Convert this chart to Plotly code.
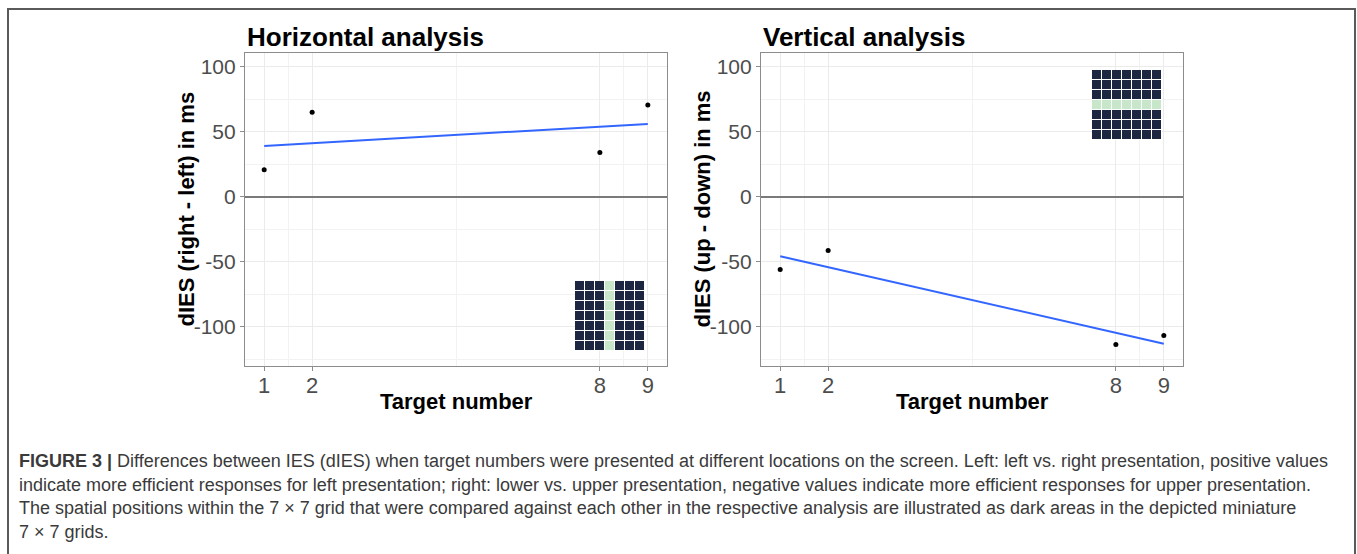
import numpy as np
import plotly.graph_objects as go

W, H = 1357, 554

# Target numbers and dIES values (ms)
targets = [1, 2, 8, 9]
dies_horizontal = [20.8, 65.0, 34.0, 70.5]     # right - left
dies_vertical = [-55.8, -41.2, -113.5, -106.6]  # up - down

x_ticks = [1, 2, 8, 9]
x_minor = [1.5, 5, 8.5]
y_ticks = [-100, -50, 0, 50, 100]
y_tick_text = ["-100", "-50", "0", "50", "100"]
y_minor = [-125, -75, -25, 25, 75]

panel_titles = ["Horizontal analysis", "Vertical analysis"]
y_titles = ["dIES (right - left) in ms", "dIES (up - down) in ms"]
x_title = "Target number"

caption_lines = [
    "<b>FIGURE 3 |</b> Differences between IES (dIES) when target numbers were presented at different locations on the screen. Left: left vs. right presentation, positive values",
    "indicate more efficient responses for left presentation; right: lower vs. upper presentation, negative values indicate more efficient responses for upper presentation.",
    "The spatial positions within the 7 \u00d7 7 grid that were compared against each other in the respective analysis are illustrated as dark areas in the depicted miniature",
    "7 \u00d7 7 grids.",
]

# Miniature 7x7 grids: 1 = dark (compared area), 0 = highlighted middle line
grid_horizontal = [[1, 1, 1, 0, 1, 1, 1] for _ in range(7)]
grid_vertical = [[0] * 7 if r == 3 else [1] * 7 for r in range(7)]

FONT = "Liberation Sans, Arial, sans-serif"


def px_x(p):
    return p / W


def px_y(p):
    return 1 - p / H


fig = go.Figure()

panels = [
    dict(x0=245, x1=667, data=dies_horizontal, inset=grid_horizontal,
         inset_box=(575, 645, 281, 351), white_box=(557, 667, 263, 359)),
    dict(x0=761, x1=1183, data=dies_vertical, inset=grid_vertical,
         inset_box=(1092, 1162, 70, 140), white_box=(1073, 1183, 53, 150)),
]
top_px, bottom_px = 53, 366

annotations = []
shapes = []

for i, p in enumerate(panels):
    xa = "x" if i == 0 else "x2"
    ya = "y" if i == 0 else "y2"
    # linear fit across the target range
    slope, icpt = np.polyfit(targets, p["data"], 1)
    fit_x = [min(targets), max(targets)]
    fit_y = [icpt + slope * v for v in fit_x]

    fig.add_trace(go.Scatter(x=fit_x, y=fit_y, mode="lines",
                             line=dict(color="#3366FF", width=2),
                             xaxis=xa, yaxis=ya, showlegend=False, hoverinfo="skip"))
    fig.add_trace(go.Scatter(x=targets, y=p["data"], mode="markers",
                             marker=dict(color="black", size=5),
                             xaxis=xa, yaxis=ya, showlegend=False))

    axis_common = dict(
        showline=True, mirror=True, linecolor="#8c8c8c", linewidth=1.2,
        ticks="outside", ticklen=4, tickcolor="#8c8c8c", tickwidth=1,
        tickfont=dict(family=FONT, size=21, color="#4d4d4d"),
        showgrid=True, gridcolor="#ebebeb", gridwidth=1,
        zeroline=False, fixedrange=True,
    )
    xkey = "xaxis" if i == 0 else "xaxis2"
    ykey = "yaxis" if i == 0 else "yaxis2"
    fig.update_layout({
        xkey: dict(axis_common, domain=[px_x(p["x0"]), px_x(p["x1"])], range=[0.6, 9.4],
                   tickvals=x_ticks, anchor=ya, ticklabelstandoff=-5,
                   tickfont=dict(family=FONT, size=22, color="#4d4d4d"),
                   minor=dict(tickvals=x_minor, showgrid=True, gridcolor="#f2f2f2", gridwidth=0.8)),
        ykey: dict(axis_common, domain=[px_y(bottom_px), px_y(top_px)], range=[-130, 110.5],
                   tickvals=y_ticks, ticktext=y_tick_text, anchor=xa,
                   zeroline=True, zerolinecolor="#7a7a7a", zerolinewidth=1.5,
                   minor=dict(tickvals=y_minor, showgrid=True, gridcolor="#f2f2f2", gridwidth=0.8)),
    })

    # white backing box of the miniature (hides grid lines)
    wx0, wx1, wy0, wy1 = p["white_box"]
    shapes.append(dict(type="rect", xref="paper", yref="paper",
                       x0=px_x(wx0), x1=px_x(wx1), y0=px_y(wy1), y1=px_y(wy0),
                       fillcolor="white", line=dict(width=0), layer="between"))

    # miniature grid as a heatmap on its own axes
    ix0, ix1, iy0, iy1 = p["inset_box"]
    n = 3 + i * 2
    xk, yk = f"xaxis{n}", f"yaxis{n}"
    xr, yr = f"x{n}", f"y{n}"
    shapes.append(dict(type="rect", xref="paper", yref="paper",
                       x0=px_x(ix0), x1=px_x(ix1), y0=px_y(iy1), y1=px_y(iy0),
                       fillcolor="#7f879c", line=dict(width=0), layer="between"))
    fig.add_trace(go.Heatmap(z=p["inset"], xaxis=xr, yaxis=yr, xgap=1, ygap=1,
                             colorscale=[[0, "#c8e6c9"], [1, "#1d2640"]], zmin=0, zmax=1,
                             showscale=False, hoverinfo="skip"))
    fig.update_layout({
        xk: dict(domain=[px_x(ix0), px_x(ix1)], visible=False, range=[-0.5, 6.5],
                 anchor=yr, fixedrange=True),
        yk: dict(domain=[px_y(iy1), px_y(iy0)], visible=False, range=[-0.5, 6.5],
                 anchor=xr, fixedrange=True),
    })

    # panel title
    annotations.append(dict(text=f"<b>{panel_titles[i]}</b>", xref="paper", yref="paper",
                            x=px_x(p["x0"]), y=px_y(37), xanchor="left", yanchor="middle",
                            showarrow=False, font=dict(family=FONT, size=26, color="black")))
    # axis titles
    annotations.append(dict(text=f"<b>{x_title}</b>", xref="paper", yref="paper",
                            x=px_x((p["x0"] + p["x1"]) / 2), y=px_y(401),
                            xanchor="center", yanchor="middle", showarrow=False,
                            font=dict(family=FONT, size=22, color="black")))
    annotations.append(dict(text=f"<b>{y_titles[i]}</b>", xref="paper", yref="paper",
                            x=px_x(p["x0"] - 59), y=px_y((top_px + bottom_px) / 2),
                            xanchor="center", yanchor="middle", textangle=-90, showarrow=False,
                            font=dict(family=FONT, size=22, color="black")))

# caption
for k, line in enumerate(caption_lines):
    annotations.append(dict(text=line, xref="paper", yref="paper",
                            x=px_x(17), y=px_y(461 + k * 23.5), xanchor="left", yanchor="middle",
                            showarrow=False, font=dict(family=FONT, size=18, color="#3a3a3a")))

# outer frame
shapes.append(dict(type="rect", xref="paper", yref="paper",
                   x0=px_x(8), x1=px_x(1355), y0=-0.1, y1=px_y(9),
                   line=dict(color="#5a5a5a", width=2), fillcolor="rgba(0,0,0,0)", layer="above"))

fig.update_layout(
    width=W, height=H,
    margin=dict(l=0, r=0, t=0, b=0),
    paper_bgcolor="white", plot_bgcolor="white",
    annotations=annotations, shapes=shapes,
    showlegend=False,
)

fig.write_html("out.html", config={"displayModeBar": False})
